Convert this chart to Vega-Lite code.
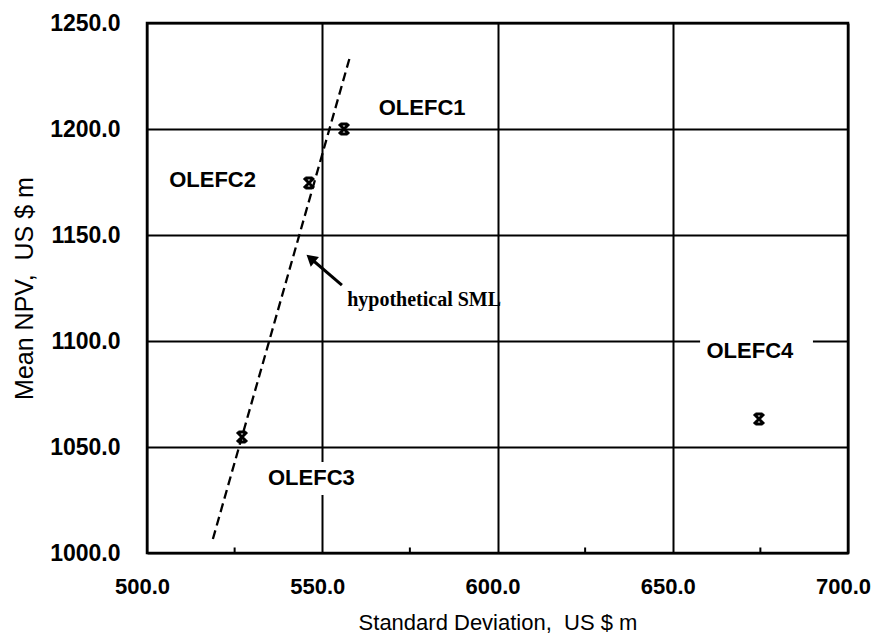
{
  "$schema": "https://vega.github.io/schema/vega-lite/v6.json",
  "autosize": {"type": "none"},
  "width": 701,
  "height": 530,
  "padding": {"left": 147, "top": 23, "right": 25, "bottom": 88},
  "background": "white",
  "config": {
    "view": {"stroke": "black", "strokeWidth": 2.5},
    "font": "Liberation Sans"
  },
  "datasets": {
    "points": [
      {"name": "OLEFC1", "sd": 556.2, "npv": 1200.0},
      {"name": "OLEFC2", "sd": 546.2, "npv": 1174.5},
      {"name": "OLEFC3", "sd": 527.1, "npv": 1054.7},
      {"name": "OLEFC4", "sd": 674.6, "npv": 1063.2}
    ],
    "labels": [
      {"name": "OLEFC1", "sd": 578.5, "npv": 1209.7},
      {"name": "OLEFC2", "sd": 518.7, "npv": 1176.0},
      {"name": "OLEFC3", "sd": 546.9, "npv": 1035.6},
      {"name": "OLEFC4", "sd": 672.0, "npv": 1095.3}
    ],
    "boxes": [
      {"x1": 532.8, "x2": 561.1, "y1": 1027.4, "y2": 1042.9},
      {"x1": 657.8, "x2": 690.0, "y1": 1088.2, "y2": 1102.4}
    ],
    "sml": [
      {"sd": 518.8, "npv": 1006.6},
      {"sd": 557.9, "npv": 1234.0}
    ],
    "arrow": [
      {"x1": 555.6, "y1": 1126.4, "x2": 546.3, "y2": 1139.5}
    ],
    "arrowhead": [
      {"sd": 546.7, "npv": 1139.0}
    ],
    "note": [
      {"text": "hypothetical SML", "sd": 557.1, "npv": 1116.5}
    ],
    "minor": [
      {"sd": 525, "y1": 1000, "y2": 1002.6},
      {"sd": 575, "y1": 1000, "y2": 1002.6},
      {"sd": 625, "y1": 1000, "y2": 1002.6},
      {"sd": 675, "y1": 1000, "y2": 1002.6}
    ]
  },
  "layer": [
    {
      "data": {"name": "points"},
      "mark": {"type": "point", "opacity": 0},
      "encoding": {
        "x": {
          "field": "sd", "type": "quantitative",
          "scale": {"domain": [500, 700], "nice": false, "zero": false},
          "axis": {
            "values": [500, 550, 600, 650, 700],
            "format": ".1f",
            "title": "Standard Deviation, \u00a0US $ m",
            "grid": true, "gridColor": "black", "gridWidth": 2, "gridOpacity": 1,
            "domain": false, "ticks": false,
            "labelFont": "Liberation Sans", "labelFontSize": 22, "labelFontWeight": "bold", "labelColor": "black",
            "labelPadding": 23, "labelFlush": false, "labelOffset": -5,
            "titleFont": "Liberation Sans", "titleFontSize": 22, "titleFontWeight": "normal", "titleColor": "black",
            "titlePadding": 15
          }
        },
        "y": {
          "field": "npv", "type": "quantitative",
          "scale": {"domain": [1000, 1250], "nice": false, "zero": false},
          "axis": {
            "values": [1000, 1050, 1100, 1150, 1200, 1250],
            "format": ".1f",
            "title": "Mean NPV, \u00a0US $ m",
            "grid": true, "gridColor": "black", "gridWidth": 2, "gridOpacity": 1,
            "domain": false, "ticks": false,
            "labelFont": "Liberation Sans", "labelFontSize": 23, "labelFontWeight": "bold", "labelColor": "black",
            "labelPadding": 27, "labelFlush": false,
            "titleFont": "Liberation Sans", "titleFontSize": 25, "titleFontWeight": "normal", "titleColor": "black",
            "titlePadding": 12
          }
        }
      }
    },
    {
      "data": {"name": "minor"},
      "mark": {"type": "rule", "color": "black", "strokeWidth": 2},
      "encoding": {
        "x": {"field": "sd", "type": "quantitative"},
        "y": {"field": "y1", "type": "quantitative"},
        "y2": {"field": "y2"}
      }
    },
    {
      "data": {"name": "boxes"},
      "mark": {"type": "rect", "fill": "white", "stroke": null},
      "encoding": {
        "x": {"field": "x1", "type": "quantitative"},
        "x2": {"field": "x2"},
        "y": {"field": "y1", "type": "quantitative"},
        "y2": {"field": "y2"}
      }
    },
    {
      "data": {"name": "labels"},
      "mark": {"type": "text", "font": "Liberation Sans", "fontSize": 22, "fontWeight": "bold", "color": "black", "align": "center", "baseline": "middle"},
      "encoding": {
        "x": {"field": "sd", "type": "quantitative"},
        "y": {"field": "npv", "type": "quantitative"},
        "text": {"field": "name"}
      }
    },
    {
      "data": {"name": "sml"},
      "mark": {"type": "line", "color": "black", "strokeWidth": 2.3, "strokeDash": [9, 5]},
      "encoding": {
        "x": {"field": "sd", "type": "quantitative"},
        "y": {"field": "npv", "type": "quantitative"}
      }
    },
    {
      "data": {"name": "points"},
      "mark": {"type": "point", "shape": "M-1,-1L1,1M1,-1L-1,1M-0.7,-1H0.7M-0.7,1H0.7", "filled": false, "stroke": "black", "strokeWidth": 3, "size": 100, "opacity": 1},
      "encoding": {
        "x": {"field": "sd", "type": "quantitative"},
        "y": {"field": "npv", "type": "quantitative"}
      }
    },
    {
      "data": {"name": "arrow"},
      "mark": {"type": "rule", "color": "black", "strokeWidth": 3},
      "encoding": {
        "x": {"field": "x1", "type": "quantitative"},
        "y": {"field": "y1", "type": "quantitative"},
        "x2": {"field": "x2"},
        "y2": {"field": "y2"}
      }
    },
    {
      "data": {"name": "arrowhead"},
      "mark": {"type": "point", "shape": "triangle-up", "filled": true, "color": "black", "size": 160, "angle": 310.6, "opacity": 1},
      "encoding": {
        "x": {"field": "sd", "type": "quantitative"},
        "y": {"field": "npv", "type": "quantitative"}
      }
    },
    {
      "data": {"name": "note"},
      "mark": {"type": "text", "font": "Liberation Serif", "fontSize": 20, "fontWeight": "bold", "color": "black", "align": "left", "baseline": "alphabetic"},
      "encoding": {
        "x": {"field": "sd", "type": "quantitative"},
        "y": {"field": "npv", "type": "quantitative"},
        "text": {"field": "text"}
      }
    }
  ]
}
